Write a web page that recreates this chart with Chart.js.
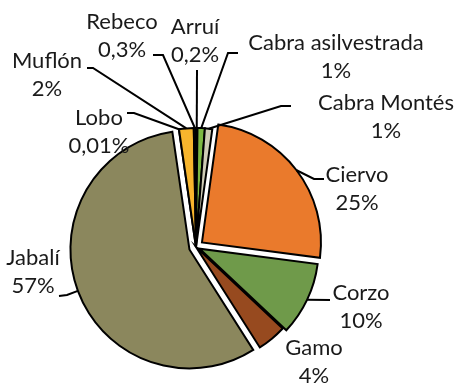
<!DOCTYPE html>
<html>
<head>
<meta charset="utf-8">
<script src="https://cdn.jsdelivr.net/npm/chart.js@4"></script>
<style>
  html, body { margin: 0; padding: 0; background: #fff; }
  #caza { display: block; }
</style>
</head>
<body>
<canvas id="caza" width="468" height="385"></canvas>
<script>
// especies y porcentaje de capturas
const especies = ["Arruí", "Cabra asilvestrada", "Cabra Montés", "Ciervo", "Corzo",
                  "Gamo", "Jabalí", "Lobo", "Muflón", "Rebeco"];
const porcentajes = [0.2, 1, 1, 25, 10, 4, 57, 0.01, 2, 0.3];

const colores = ["#2b2b33", "#7cb843", "#cfccb6", "#ea7a2c", "#6f9a4a",
                 "#974a1f", "#8b875d", "#a5a5a5", "#f7b52d", "#1f1f1f"];

// desplazamiento de cada porción hacia fuera (px)
const separacion = [0, 0, 0, 7.5, 4, 0, 7, 0, 0, 0];

// donde va cada etiqueta: x centro, primera línea base, puntos de la guía
const etiquetas = [
  { x: 195, y: 34,  guia: [[197, 70]] },
  { x: 336, y: 50,  guia: [[238, 53], [228, 53]] },
  { x: 386, y: 110, guia: [[291, 106], [281, 106]] },
  { x: 357, y: 182, guia: [[324, 179], [314, 179]] },
  { x: 361, y: 300, guia: [[330, 300]] },
  { x: 314, y: 355, guia: null },
  { x: 33,  y: 265, guia: [[59, 296], [67, 295]] },
  { x: 99,  y: 125, guia: [[127, 113], [134, 113]] },
  { x: 47,  y: 68,  guia: [[87, 68], [93, 68]] },
  { x: 122, y: 29,  guia: [[153, 55], [163, 55]] }
];

function textoPct(v) {
  return String(v).replace(".", ",") + "%";
}

// dibuja cada arco desplazado segun "separacion"
const despiece = {
  id: "despiece",
  beforeDatasetDraw(chart, args) {
    const ctx = chart.ctx;
    args.meta.data.forEach(function(arc, i) {
      const d = separacion[i] || 0;
      const mid = (arc.startAngle + arc.endAngle) / 2;
      ctx.save();
      ctx.translate(Math.cos(mid) * d, Math.sin(mid) * d);
      arc.draw(ctx);
      ctx.restore();
    });
    return false;
  }
};

const rotulos = {
  id: "rotulos",
  afterDatasetsDraw(chart) {
    const ctx = chart.ctx;
    const arcs = chart.getDatasetMeta(0).data;
    ctx.save();
    ctx.strokeStyle = "#000";
    ctx.lineWidth = 2;
    arcs.forEach(function(arc, i) {
      const e = etiquetas[i];
      if (!e.guia) return;
      const mid = (arc.startAngle + arc.endAngle) / 2;
      const r = arc.outerRadius + (separacion[i] || 0);
      ctx.beginPath();
      ctx.moveTo(e.guia[0][0], e.guia[0][1]);
      for (let k = 1; k < e.guia.length; k++) ctx.lineTo(e.guia[k][0], e.guia[k][1]);
      ctx.lineTo(arc.x + Math.cos(mid) * r, arc.y + Math.sin(mid) * r);
      ctx.stroke();
    });
    ctx.fillStyle = "#1a1a1a";
    ctx.font = "22px Lato";
    ctx.textAlign = "center";
    ctx.textBaseline = "alphabetic";
    especies.forEach(function(nombre, i) {
      const e = etiquetas[i];
      ctx.fillText(nombre, e.x, e.y);
      ctx.fillText(textoPct(porcentajes[i]), e.x, e.y + 28);
    });
    ctx.restore();
  }
};

new Chart(document.getElementById("caza"), {
  type: "pie",
  data: {
    labels: especies,
    datasets: [{
      data: porcentajes,
      backgroundColor: colores,
      borderColor: "#000",
      borderWidth: 2,
      borderJoinStyle: "miter"
    }]
  },
  options: {
    responsive: false,
    animation: false,
    events: [],
    layout: { padding: { left: 76, top: 127, right: 152, bottom: 18 } },
    plugins: {
      legend: { display: false },
      tooltip: { enabled: false }
    }
  },
  plugins: [despiece, rotulos]
});
</script>
</body>
</html>
